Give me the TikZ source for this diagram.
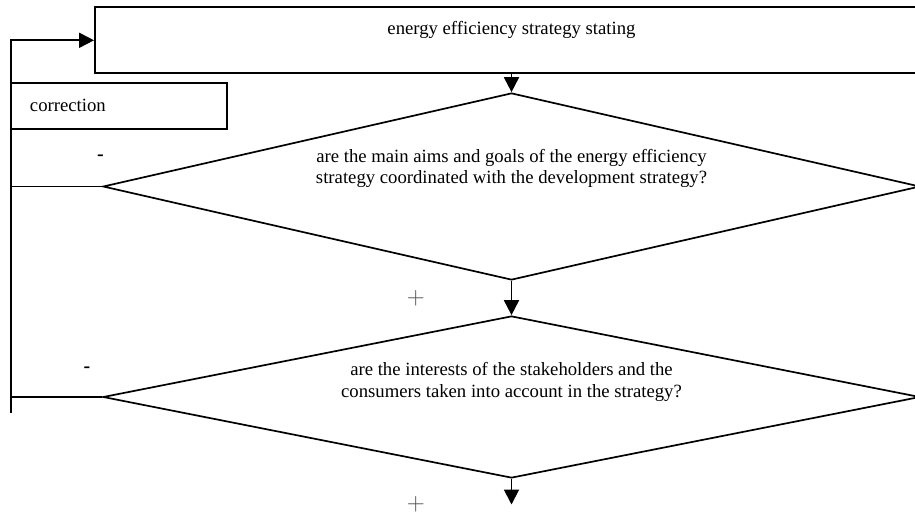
\documentclass[tikz,border=0pt]{standalone}
\usepackage{fontspec}
\setmainfont{Liberation Serif}
\usetikzlibrary{arrows.meta,shapes.geometric}
\begin{document}
\begin{tikzpicture}[x=1pt,y=-1pt,
  line width=1.9pt,
  box/.style={draw, rectangle, inner sep=0pt},
  dec/.style={draw, diamond, inner sep=0pt, line width=1.7pt},
  txt/.style={font=\fontsize{18.7}{21.5}\selectfont, align=center, inner sep=0pt},
  sign/.style={font=\fontsize{20}{22}\selectfont\bfseries, inner sep=0pt},
  plus/.style={font=\fontsize{26}{28}\selectfont, inner sep=0pt, text=black!70},
  arr/.style={-{Triangle[length=15pt,width=15pt]}},
]
\useasboundingbox (0,0) rectangle (915,514);
\clip (0,0) rectangle (915,514);
% boxes
\node[box, minimum width=825pt, minimum height=66pt] (top) at (507.5,40.3) {};
\node[txt] (toptxt) at (511.5,30) {energy efficiency strategy stating};
\node[box, minimum width=215.7pt, minimum height=46pt] (corr) at (118.85,105.7) {};
\node[txt, anchor=west] (corrtxt) at (29,105.7) {correction};
% decisions
\node[dec, minimum width=817pt, minimum height=187pt] (d1) at (511.5,186.5) {};
\node[txt] (t1) at (511.5,168.5) {are the main aims and goals of the energy efficiency\\strategy coordinated with the development strategy?};
\node[dec, minimum width=817pt, minimum height=162pt] (d2) at (511.5,397) {};
\node[txt] (t2) at (511.5,382) {are the interests of the stakeholders and the\\consumers taken into account in the strategy?};
% connectors
\coordinate (lb) at (11,413);
\coordinate (end) at (511.5,504.5);
\draw[arr] (lb) |- (top.west);
\draw (d1.west) -- (d1.west -| lb);
\draw (d2.west) -- (d2.west -| lb);
\draw[arr] (d1.north |- top.south) -- (d1.north);
\draw[arr] (d1.south) -- (d2.north);
\draw[arr] (d2.south) -- (end);
% signs
\node[sign] (m1) at (100.5,158) {-};
\node[sign] (m2) at (87,370) {-};
\node[plus] (p1) at (415.7,298.3) {$+$};
\node[plus] (p2) at (415.7,504.3) {$+$};
\end{tikzpicture}
\end{document}
